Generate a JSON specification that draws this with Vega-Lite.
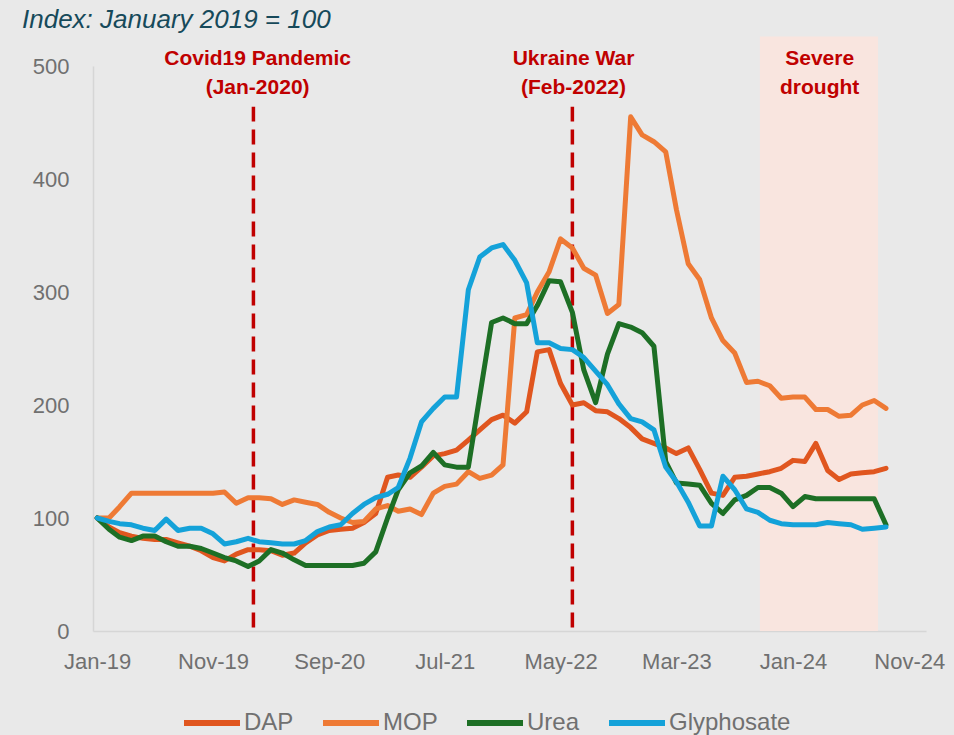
{
  "$schema": "https://vega.github.io/schema/vega-lite/v6.json",
  "width": 833,
  "height": 565,
  "autosize": {"type": "none"},
  "padding": {"left": 93, "top": 66, "right": 28, "bottom": 104},
  "background": "#e9e9e9",
  "title": {
    "text": "Index: January 2019 = 100",
    "anchor": "start",
    "frame": "group",
    "dx": -71,
    "offset": 4,
    "font": "Liberation Sans",
    "fontSize": 26,
    "fontStyle": "italic",
    "fontWeight": "normal",
    "color": "#16495a"
  },
  "config": {
    "view": {"stroke": null},
    "axis": {
      "grid": false,
      "ticks": false,
      "title": null,
      "domainColor": "#d6d6d6",
      "domainWidth": 1.5,
      "labelFont": "Liberation Sans",
      "labelFontSize": 22,
      "labelColor": "#707070"
    }
  },
  "datasets": {
    "prices": [
      {"date": "2019-01-01", "DAP": 100, "MOP": 100, "Urea": 100, "Glyphosate": 100},
      {"date": "2019-02-01", "DAP": 92, "MOP": 100, "Urea": 90, "Glyphosate": 97},
      {"date": "2019-03-01", "DAP": 87, "MOP": 110, "Urea": 83, "Glyphosate": 95},
      {"date": "2019-04-01", "DAP": 84, "MOP": 122, "Urea": 80, "Glyphosate": 94},
      {"date": "2019-05-01", "DAP": 82, "MOP": 122, "Urea": 84, "Glyphosate": 91},
      {"date": "2019-06-01", "DAP": 81, "MOP": 122, "Urea": 84, "Glyphosate": 89},
      {"date": "2019-07-01", "DAP": 81, "MOP": 122, "Urea": 79, "Glyphosate": 99},
      {"date": "2019-08-01", "DAP": 78, "MOP": 122, "Urea": 75, "Glyphosate": 89},
      {"date": "2019-09-01", "DAP": 75, "MOP": 122, "Urea": 75, "Glyphosate": 91},
      {"date": "2019-10-01", "DAP": 71, "MOP": 122, "Urea": 73, "Glyphosate": 91},
      {"date": "2019-11-01", "DAP": 65, "MOP": 122, "Urea": 69, "Glyphosate": 86},
      {"date": "2019-12-01", "DAP": 62, "MOP": 123, "Urea": 65, "Glyphosate": 77},
      {"date": "2020-01-01", "DAP": 68, "MOP": 113, "Urea": 62, "Glyphosate": 79},
      {"date": "2020-02-01", "DAP": 72, "MOP": 118, "Urea": 57, "Glyphosate": 82},
      {"date": "2020-03-01", "DAP": 72, "MOP": 118, "Urea": 62, "Glyphosate": 79},
      {"date": "2020-04-01", "DAP": 71, "MOP": 117, "Urea": 72, "Glyphosate": 78},
      {"date": "2020-05-01", "DAP": 67, "MOP": 112, "Urea": 69, "Glyphosate": 77},
      {"date": "2020-06-01", "DAP": 69, "MOP": 116, "Urea": 63, "Glyphosate": 77},
      {"date": "2020-07-01", "DAP": 78, "MOP": 114, "Urea": 58, "Glyphosate": 80},
      {"date": "2020-08-01", "DAP": 85, "MOP": 112, "Urea": 58, "Glyphosate": 88},
      {"date": "2020-09-01", "DAP": 89, "MOP": 105, "Urea": 58, "Glyphosate": 92},
      {"date": "2020-10-01", "DAP": 90, "MOP": 100, "Urea": 58, "Glyphosate": 94},
      {"date": "2020-11-01", "DAP": 91, "MOP": 96, "Urea": 58, "Glyphosate": 104},
      {"date": "2020-12-01", "DAP": 96, "MOP": 97, "Urea": 60, "Glyphosate": 112},
      {"date": "2021-01-01", "DAP": 104, "MOP": 108, "Urea": 70, "Glyphosate": 118},
      {"date": "2021-02-01", "DAP": 136, "MOP": 111, "Urea": 100, "Glyphosate": 121},
      {"date": "2021-03-01", "DAP": 138, "MOP": 106, "Urea": 125, "Glyphosate": 127},
      {"date": "2021-04-01", "DAP": 136, "MOP": 108, "Urea": 140, "Glyphosate": 153},
      {"date": "2021-05-01", "DAP": 145, "MOP": 103, "Urea": 146, "Glyphosate": 185},
      {"date": "2021-06-01", "DAP": 155, "MOP": 122, "Urea": 158, "Glyphosate": 197},
      {"date": "2021-07-01", "DAP": 157, "MOP": 128, "Urea": 147, "Glyphosate": 207},
      {"date": "2021-08-01", "DAP": 160, "MOP": 130, "Urea": 145, "Glyphosate": 207},
      {"date": "2021-09-01", "DAP": 169, "MOP": 141, "Urea": 145, "Glyphosate": 302},
      {"date": "2021-10-01", "DAP": 178, "MOP": 135, "Urea": 208, "Glyphosate": 331},
      {"date": "2021-11-01", "DAP": 187, "MOP": 138, "Urea": 273, "Glyphosate": 339},
      {"date": "2021-12-01", "DAP": 191, "MOP": 147, "Urea": 277, "Glyphosate": 342},
      {"date": "2022-01-01", "DAP": 184, "MOP": 277, "Urea": 272, "Glyphosate": 328},
      {"date": "2022-02-01", "DAP": 194, "MOP": 280, "Urea": 272, "Glyphosate": 308},
      {"date": "2022-03-01", "DAP": 247, "MOP": 300, "Urea": 288, "Glyphosate": 255},
      {"date": "2022-04-01", "DAP": 249, "MOP": 318, "Urea": 310, "Glyphosate": 255},
      {"date": "2022-05-01", "DAP": 219, "MOP": 347, "Urea": 309, "Glyphosate": 250},
      {"date": "2022-06-01", "DAP": 200, "MOP": 339, "Urea": 282, "Glyphosate": 249},
      {"date": "2022-07-01", "DAP": 202, "MOP": 321, "Urea": 231, "Glyphosate": 242},
      {"date": "2022-08-01", "DAP": 195, "MOP": 315, "Urea": 202, "Glyphosate": 230},
      {"date": "2022-09-01", "DAP": 194, "MOP": 281, "Urea": 245, "Glyphosate": 218},
      {"date": "2022-10-01", "DAP": 188, "MOP": 289, "Urea": 272, "Glyphosate": 201},
      {"date": "2022-11-01", "DAP": 180, "MOP": 455, "Urea": 269, "Glyphosate": 188},
      {"date": "2022-12-01", "DAP": 170, "MOP": 439, "Urea": 264, "Glyphosate": 185},
      {"date": "2023-01-01", "DAP": 166, "MOP": 433, "Urea": 252, "Glyphosate": 178},
      {"date": "2023-02-01", "DAP": 162, "MOP": 424, "Urea": 150, "Glyphosate": 145},
      {"date": "2023-03-01", "DAP": 157, "MOP": 373, "Urea": 131, "Glyphosate": 132},
      {"date": "2023-04-01", "DAP": 162, "MOP": 325, "Urea": 130, "Glyphosate": 114},
      {"date": "2023-05-01", "DAP": 143, "MOP": 311, "Urea": 129, "Glyphosate": 93},
      {"date": "2023-06-01", "DAP": 122, "MOP": 277, "Urea": 113, "Glyphosate": 93},
      {"date": "2023-07-01", "DAP": 120, "MOP": 257, "Urea": 104, "Glyphosate": 137},
      {"date": "2023-08-01", "DAP": 136, "MOP": 246, "Urea": 116, "Glyphosate": 125},
      {"date": "2023-09-01", "DAP": 137, "MOP": 220, "Urea": 120, "Glyphosate": 108},
      {"date": "2023-10-01", "DAP": 139, "MOP": 221, "Urea": 127, "Glyphosate": 105},
      {"date": "2023-11-01", "DAP": 141, "MOP": 217, "Urea": 127, "Glyphosate": 98},
      {"date": "2023-12-01", "DAP": 144, "MOP": 206, "Urea": 122, "Glyphosate": 95},
      {"date": "2024-01-01", "DAP": 151, "MOP": 207, "Urea": 110, "Glyphosate": 94},
      {"date": "2024-02-01", "DAP": 150, "MOP": 207, "Urea": 119, "Glyphosate": 94},
      {"date": "2024-03-01", "DAP": 166, "MOP": 196, "Urea": 117, "Glyphosate": 94},
      {"date": "2024-04-01", "DAP": 142, "MOP": 196, "Urea": 117, "Glyphosate": 96},
      {"date": "2024-05-01", "DAP": 134, "MOP": 190, "Urea": 117, "Glyphosate": 95},
      {"date": "2024-06-01", "DAP": 139, "MOP": 191, "Urea": 117, "Glyphosate": 94},
      {"date": "2024-07-01", "DAP": 140, "MOP": 200, "Urea": 117, "Glyphosate": 90},
      {"date": "2024-08-01", "DAP": 141, "MOP": 204, "Urea": 117, "Glyphosate": 91},
      {"date": "2024-09-01", "DAP": 144, "MOP": 197, "Urea": 94, "Glyphosate": 92}
    ],
    "drought": [
      {"start": "2023-10-06", "end": "2024-08-11"}
    ],
    "events": [
      {"date": "2020-02-15", "event": "Covid19 Pandemic"},
      {"date": "2022-06-01", "event": "Ukraine War"}
    ],
    "labels": [
      {"date": "2020-02-26", "level": 501, "text": "Covid19 Pandemic"},
      {"date": "2020-02-26", "level": 475, "text": "(Jan-2020)"},
      {"date": "2022-06-04", "level": 501, "text": "Ukraine War"},
      {"date": "2022-06-04", "level": 475, "text": "(Feb-2022)"},
      {"date": "2024-03-11", "level": 501, "text": "Severe"},
      {"date": "2024-03-11", "level": 475, "text": "drought"}
    ]
  },
  "layer": [
    {
      "data": {"name": "drought"},
      "mark": {"type": "rect", "color": "#f9e5df"},
      "encoding": {
        "x": {"field": "start", "type": "temporal"},
        "x2": {"field": "end"},
        "y": {"datum": 0, "type": "quantitative"},
        "y2": {"datum": 526}
      }
    },
    {
      "data": {"name": "events"},
      "mark": {"type": "rule", "color": "#c00000", "strokeWidth": 3.5, "strokeDash": [15, 8]},
      "encoding": {
        "x": {"field": "date", "type": "temporal"},
        "y": {"datum": 3, "type": "quantitative"},
        "y2": {"datum": 464}
      }
    },
    {
      "data": {"name": "prices"},
      "transform": [{"fold": ["DAP", "MOP", "Urea", "Glyphosate"], "as": ["series", "value"]}],
      "mark": {"type": "line", "strokeWidth": 5, "strokeJoin": "round", "strokeCap": "round"},
      "encoding": {
        "x": {
          "field": "date",
          "type": "temporal",
          "scale": {
            "type": "utc",
            "nice": false,
            "domain": [
              {"year": 2018, "month": 12, "date": 21, "utc": true},
              {"year": 2024, "month": 12, "date": 15, "utc": true}
            ]
          },
          "axis": {
            "values": [
              {"year": 2019, "month": 1, "date": 1, "utc": true},
              {"year": 2019, "month": 11, "date": 1, "utc": true},
              {"year": 2020, "month": 9, "date": 1, "utc": true},
              {"year": 2021, "month": 7, "date": 1, "utc": true},
              {"year": 2022, "month": 5, "date": 1, "utc": true},
              {"year": 2023, "month": 3, "date": 1, "utc": true},
              {"year": 2024, "month": 1, "date": 1, "utc": true},
              {"year": 2024, "month": 11, "date": 1, "utc": true}
            ],
            "format": "%b-%y",
            "labelPadding": 20,
            "labelOverlap": false,
            "labelFlush": false
          }
        },
        "y": {
          "field": "value",
          "type": "quantitative",
          "scale": {"domain": [0, 500], "nice": false},
          "axis": {"values": [0, 100, 200, 300, 400, 500], "labelPadding": 24}
        },
        "color": {
          "field": "series",
          "type": "nominal",
          "scale": {
            "domain": ["DAP", "MOP", "Urea", "Glyphosate"],
            "range": ["#e0561f", "#ee7a35", "#1d6f25", "#14a2d9"]
          },
          "legend": {
            "orient": "none",
            "legendX": 88,
            "legendY": 626,
            "direction": "horizontal",
            "title": null,
            "padding": 0,
            "symbolType": "stroke",
            "symbolSize": 3136,
            "symbolStrokeWidth": 6,
            "labelFont": "Liberation Sans",
            "labelFontSize": 24,
            "labelColor": "#707070",
            "labelOffset": 1,
            "columnPadding": 17
          }
        }
      }
    },
    {
      "data": {"name": "labels"},
      "mark": {
        "type": "text",
        "font": "Liberation Sans",
        "fontSize": 21,
        "fontWeight": "bold",
        "color": "#c00000",
        "align": "center",
        "baseline": "alphabetic"
      },
      "encoding": {
        "x": {"field": "date", "type": "temporal"},
        "y": {"field": "level", "type": "quantitative"},
        "text": {"field": "text"}
      }
    }
  ]
}
